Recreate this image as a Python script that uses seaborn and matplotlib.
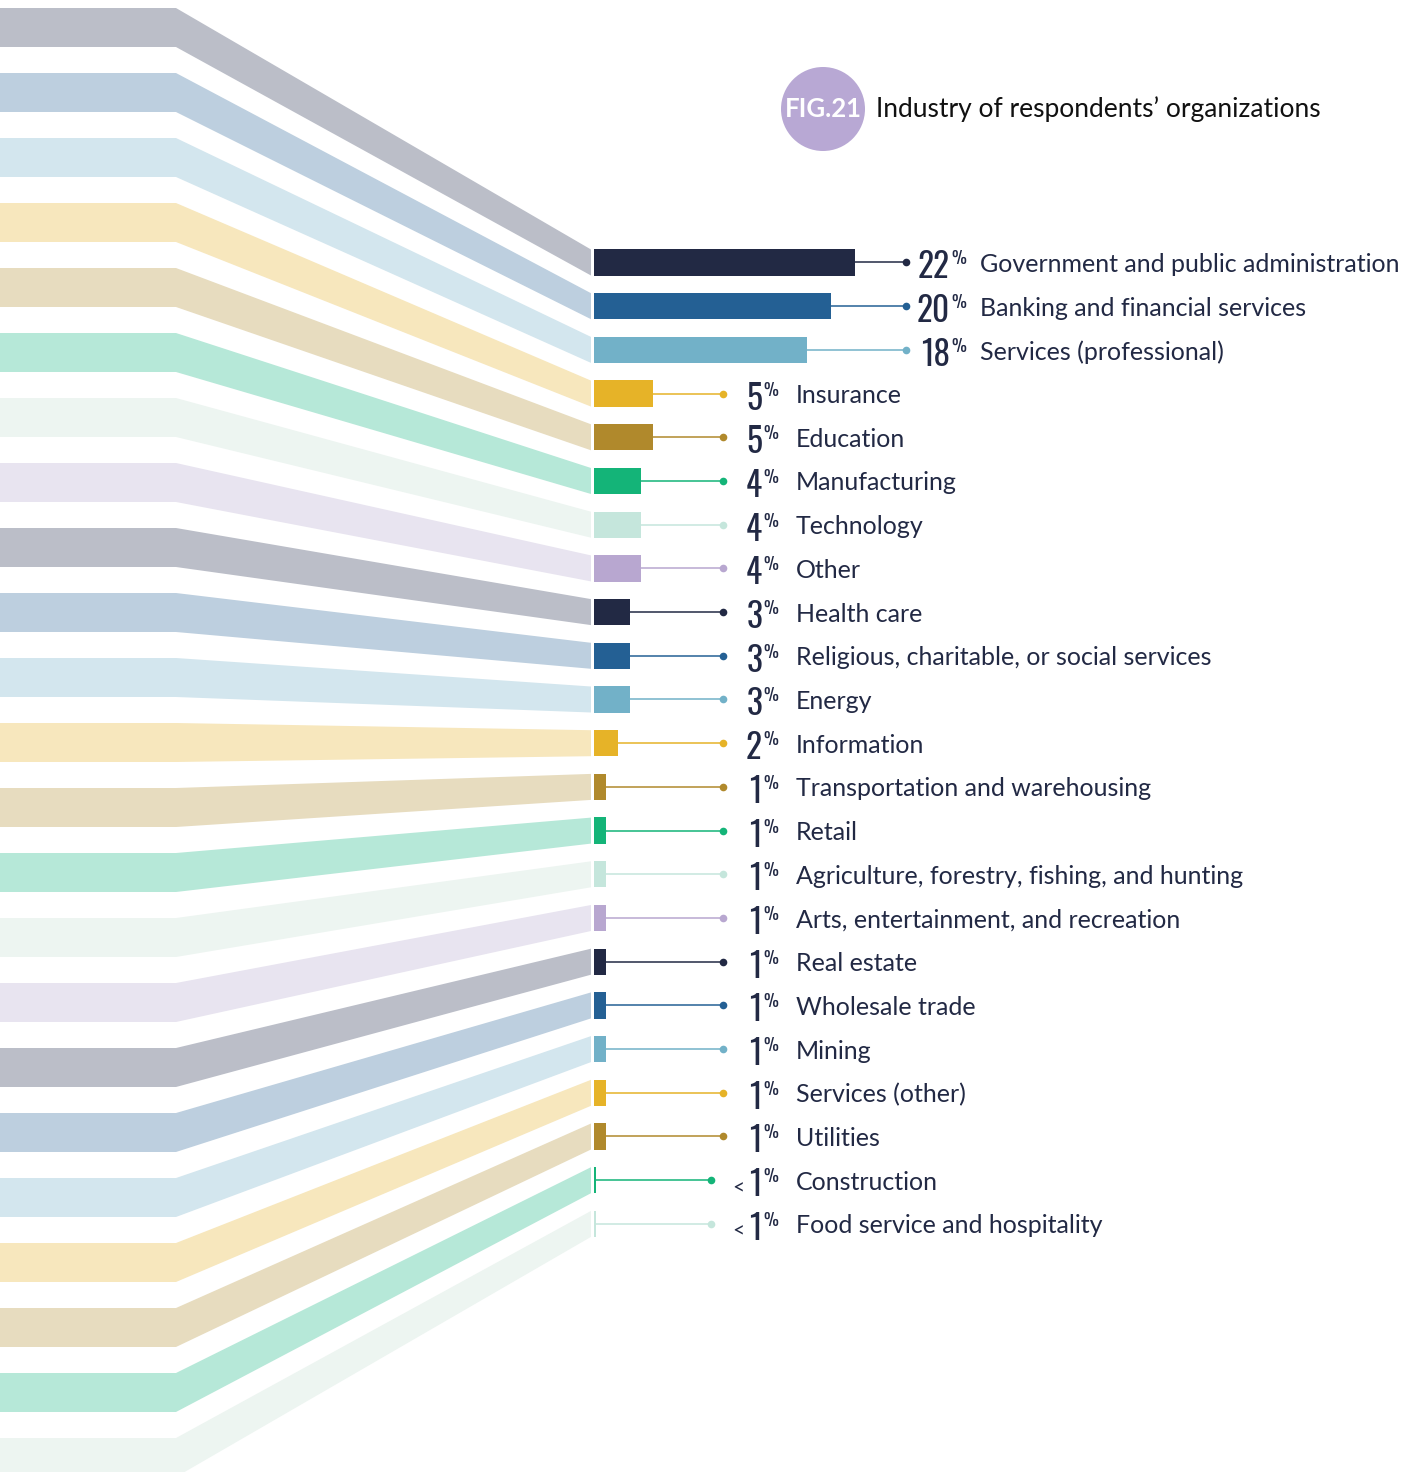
import matplotlib
matplotlib.use("Agg")
import matplotlib.pyplot as plt
from matplotlib.patches import Circle, Polygon
import seaborn as sns
import pandas as pd

# ─── data ────────────────────────────────────────────────────────────────
categories = [
    "Government and public administration",
    "Banking and financial services",
    "Services (professional)",
    "Insurance",
    "Education",
    "Manufacturing",
    "Technology",
    "Other",
    "Health care",
    "Religious, charitable, or social services",
    "Energy",
    "Information",
    "Transportation and warehousing",
    "Retail",
    "Agriculture, forestry, fishing, and hunting",
    "Arts, entertainment, and recreation",
    "Real estate",
    "Wholesale trade",
    "Mining",
    "Services (other)",
    "Utilities",
    "Construction",
    "Food service and hospitality",
]
values = [22, 20, 18, 5, 5, 4, 4, 4, 3, 3, 3, 2, 1, 1, 1, 1, 1, 1, 1, 1, 1, 0.2, 0.2]
value_labels = ["22", "20", "18", "5", "5", "4", "4", "4", "3", "3", "3", "2",
                "1", "1", "1", "1", "1", "1", "1", "1", "1", "1", "1"]
less_than = [False] * 21 + [True, True]

bar_palette = ["#222944", "#246094", "#72b1c8", "#e6b328",
               "#b0892c", "#14b478", "#c5e6dc", "#b8a7d0"]
band_palette = ["#bbbec8", "#bdcfdf", "#d3e6ee", "#f7e7bd",
                "#e7dcbf", "#b6e8d8", "#edf5f1", "#e8e4f0"]

TITLE = "Industry of respondents\u2019 organizations"
FIG_TAG = "FIG.21"

# ─── layout (pixels) ─────────────────────────────────────────────────────
W, H = 1413, 1472
X0 = 594          # bar origin
PX = 11.86        # px per percentage point
ROW0, ROW = 262.5, 43.7
TEXT = "#222944"
LABEL_FONT = ["Lato", "DejaVu Sans"]
NUM_FONT = ["Oswald", "Pathway Gothic One", "DejaVu Sans"]

n = len(categories)
colors = [bar_palette[i % 8] for i in range(n)]
df = pd.DataFrame({"category": categories, "value": values})


def u(px):
    return (px - X0) / PX


fig = plt.figure(figsize=(W / 100, H / 100), dpi=100, facecolor="white")

# background axes in pixel space: ribbons + title
bg = fig.add_axes([0, 0, 1, 1])
bg.set_xlim(0, W)
bg.set_ylim(H, 0)
bg.axis("off")

for i in range(n):
    c = band_palette[i % 8]
    yl = 8 + 65 * i
    rc = ROW0 + ROW * i
    bg.add_patch(Polygon([(0, yl), (176, yl), (176, yl + 39), (0, yl + 39)],
                         closed=True, fc=c, ec="none"))
    bg.add_patch(Polygon([(176, yl), (591, rc - 13), (591, rc + 13), (176, yl + 39)],
                         closed=True, fc=c, ec="none"))

bg.add_patch(Circle((823, 109), 42, fc="#b8a8d4", ec="none"))
bg.text(823, 109, FIG_TAG, color="white", fontsize=18.5, fontweight="bold",
        ha="center", va="center", family=LABEL_FONT)
bg.text(876, 109, TITLE, color="#111111", fontsize=19, ha="left", va="center",
        family=LABEL_FONT)

# bar axes in data space
top_px = ROW0 - 0.5 * ROW
ax = fig.add_axes([X0 / W, 1 - (top_px + n * ROW) / H, (W - X0) / W, n * ROW / H])
sns.barplot(data=df, x="value", y="category", hue="category", palette=colors,
            width=0.6, saturation=1, legend=False, ax=ax)
ax.set_xlim(0, u(W))
ax.set_ylim(n - 0.5, -0.5)
ax.axis("off")

for i, (v, lab, lt, c) in enumerate(zip(values, value_labels, less_than, colors)):
    big = v >= 10
    dot_x = u(906) if big else (u(711) if lt else u(723))
    ax.plot([v, dot_x], [i, i], color=c, lw=1.1, solid_capstyle="butt", zorder=2)
    ax.plot(dot_x, i, "o", ms=5.5, color=c, mec="none", zorder=3)

    num_x = u(950) if big else u(762)
    ax.text(num_x, i + 16 / ROW, lab, ha="right", va="baseline", fontsize=24,
            fontweight=300, color=TEXT, family=NUM_FONT)
    ax.text(num_x + 0.1, i - 12 / ROW, "%", ha="left", va="top", fontsize=12,
            fontweight=300, color=TEXT, family=NUM_FONT)
    if lt:
        ax.text(u(744), i + 14 / ROW, "<", ha="right", va="baseline", fontsize=15,
                color=TEXT, family=LABEL_FONT)
    lab_x = u(980) if big else u(796)
    ax.text(lab_x, i + 2 / ROW, categories[i], ha="left", va="center",
            fontsize=18, color=TEXT, family=LABEL_FONT)

fig.savefig("out.png", dpi=100, facecolor="white")
